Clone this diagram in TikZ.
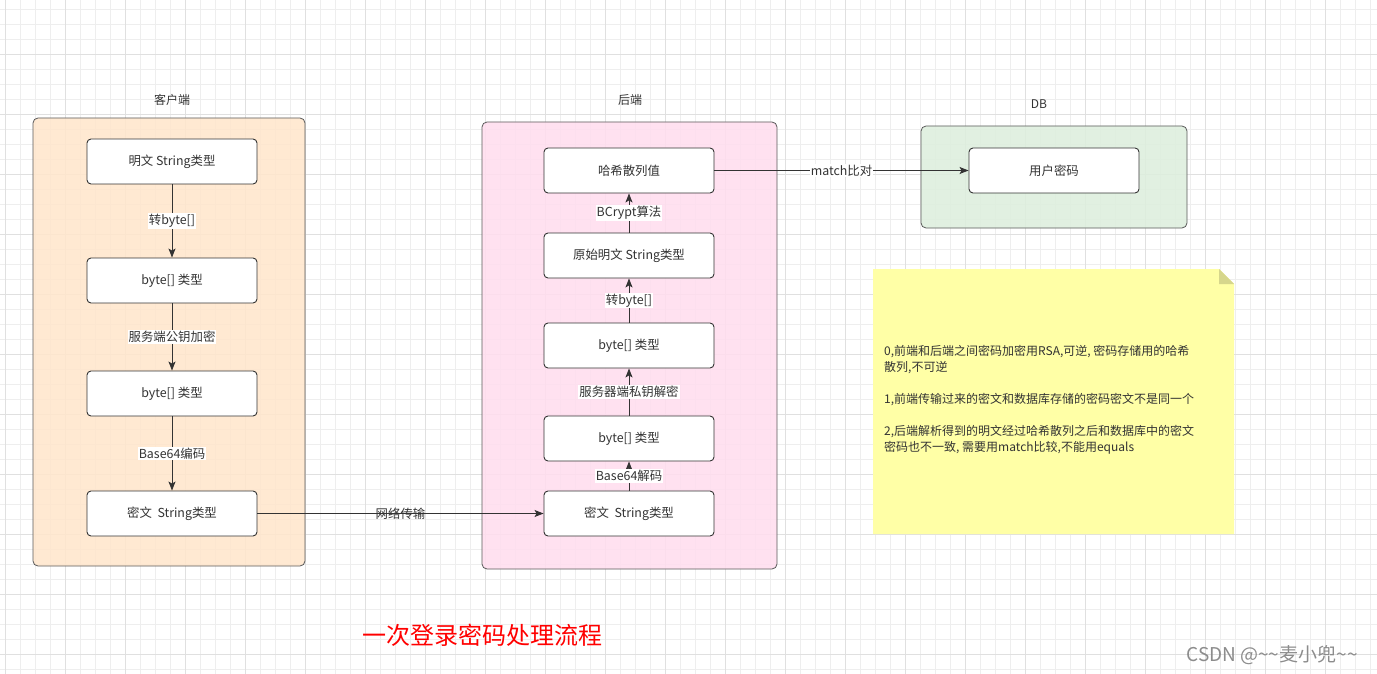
\documentclass[tikz,border=0pt]{standalone}
\usepackage{fontspec}
\setmainfont{Noto Sans CJK SC}
\usetikzlibrary{arrows.meta}
\definecolor{txt}{HTML}{333333}
\definecolor{gminor}{HTML}{EEEEEE}
\definecolor{gmajor}{HTML}{E0E0E0}
\definecolor{clientfill}{HTML}{FFE6CC}
\definecolor{backfill}{HTML}{FFDDEE}
\definecolor{dbfill}{HTML}{DDEEDD}
\definecolor{notefill}{HTML}{FFFFA6}
\definecolor{notefold}{HTML}{D6D68C}
\definecolor{edge}{HTML}{333333}
\tikzset{
  box/.style={draw=edge, line width=0.9pt, fill=white, rounded corners=4pt, minimum width=170pt, minimum height=45pt, font=\fontsize{12.4}{14}\selectfont, text=txt, inner sep=0pt},
  container/.style={draw=black!65, line width=0.8pt, rounded corners=5pt, inner sep=0pt, fill opacity=0.88},
  ttl/.style={font=\fontsize{12}{14}\selectfont, text=txt},
  lbl/.style={fill=white, font=\fontsize{12.4}{14}\selectfont, text=txt, inner sep=1pt},
  conn/.style={draw=edge, line width=0.9pt, -{Stealth[length=9pt,width=7pt,inset=2pt]}},
}
\begin{document}
\begin{tikzpicture}[x=1pt,y=-1pt]
\useasboundingbox (0,0) rectangle (1377,674);
\fill[white] (0,0) rectangle (1377,674);
% grid
\foreach \i in {0,...,91} \draw[gminor, line width=0.8pt] ({5.7+15*\i},0) -- ++(0,674);
\foreach \j in {0,...,44} \draw[gminor, line width=0.8pt] (0,{9+15*\j}) -- ++(1377,0);
\foreach \i in {0,...,22} \draw[gmajor, line width=0.8pt] ({5.7+60*\i},0) -- ++(0,674);
\foreach \j in {1,...,11} \draw[gmajor, line width=0.8pt] (0,{-6+60*\j}) -- ++(1377,0);

% containers
\node[container, fill=clientfill, minimum width=272pt, minimum height=448pt] (client) at (169,342) {};
\node[container, fill=backfill, minimum width=295pt, minimum height=447pt] (backend) at (629.5,345.5) {};
\node[container, fill=dbfill, minimum width=266pt, minimum height=102pt] (db) at (1054,177) {};

\node[ttl] (tclient) at (172,100) {客户端};
\node[ttl] (tback) at (630,100) {后端};
\node[ttl] (tdb) at (1039,104) {DB};

% client boxes
\node[box] (c1) at (172,161.5) {明文 String类型};
\node[box] (c2) at (172,280.5) {byte[] 类型};
\node[box] (c3) at (172,393.5) {byte[] 类型};
\node[box] (c4) at (172,513.5) {密文\ \ String类型};

% backend boxes
\node[box] (b1) at (629,170.5) {哈希散列值};
\node[box] (b2) at (629,255.5) {原始明文 String类型};
\node[box] (b3) at (629,345.5) {byte[] 类型};
\node[box] (b4) at (629,438.5) {byte[] 类型};
\node[box] (b5) at (629,513.5) {密文\ \ String类型};

% db box
\node[box] (d1) at (1054,170.5) {用户密码};

% client connectors
\draw[conn] (c1) -- node[lbl] {转byte[]} (c2);
\draw[conn] (c2) -- node[lbl] {服务端公钥加密} (c3);
\draw[conn] (c3) -- node[lbl] {Base64编码} (c4);

% backend connectors
\draw[conn] (b5) -- node[lbl] {Base64解码} (b4);
\draw[conn] (b4) -- node[lbl] {服务器端私钥解密} (b3);
\draw[conn] (b3) -- node[lbl] {转byte[]} (b2);
\draw[conn] (b2) -- node[lbl] {BCrypt算法} (b1);

% cross connectors
\draw[conn] (c4) -- node[lbl, fill=none] {网络传输} (b5);
\draw[conn] (b1) -- node[lbl] {match比对} (d1);

% note
\fill[notefill] (873,269) -- (1219,269) -- (1234,284) -- (1234,534) -- (873,534) -- cycle;
\fill[notefold] (1219,269) -- (1234,284) -- (1219,284) -- cycle;
\node[anchor=north west, align=left, inner sep=0pt, font=\fontsize{12}{16}\selectfont, text=txt] (note) at (884,345)
{0,前端和后端之间密码加密用RSA,可逆, 密码存储用的哈希\\
散列,不可逆\\[16pt]
1,前端传输过来的密文和数据库存储的密码密文不是同一个\\[16pt]
2,后端解析得到的明文经过哈希散列之后和数据库中的密文\\
密码也不一致, 需要用match比较,不能用equals};

% title
\node[text=red, font=\fontsize{24}{27}\selectfont] (title) at (482,635) {一次登录密码处理流程};

% watermark
\node[text=black!45, font=\fontsize{19}{22}\selectfont] (wm) at (1272,655) {CSDN @\textasciitilde\textasciitilde 麦小兜\textasciitilde\textasciitilde};
\end{tikzpicture}
\end{document}
